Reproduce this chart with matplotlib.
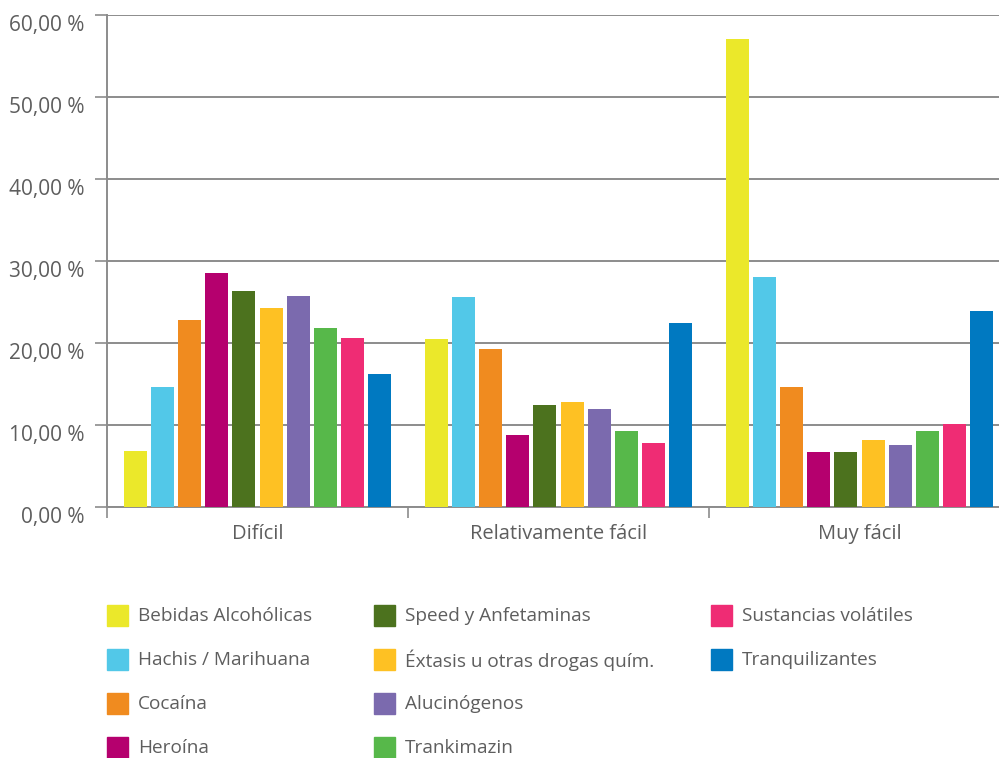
import matplotlib.pyplot as plt
from matplotlib.patches import Rectangle
from matplotlib.ticker import FuncFormatter, FixedLocator

plt.rcParams['font.family'] = ['Open Sans', 'DejaVu Sans']

groups = ["Difícil", "Relativamente fácil", "Muy fácil"]
series = [
    "Bebidas Alcohólicas", "Hachis / Marihuana", "Cocaína", "Heroína",
    "Speed y Anfetaminas", "Éxtasis u otras drogas quím.", "Alucinógenos",
    "Trankimazin", "Sustancias volátiles", "Tranquilizantes",
]
colors = [
    "#EBE82A", "#52C8E8", "#F08B1F", "#B5006E", "#4C721E",
    "#FEC123", "#7B6AAE", "#57B84A", "#EF2C74", "#0079C1",
]
# percentages per series: [Difícil, Relativamente fácil, Muy fácil]
bebidas = [6.8, 20.5, 57.1]
hachis = [14.6, 25.6, 28.0]
cocaina = [22.8, 19.3, 14.6]
heroina = [28.5, 8.8, 6.7]
speed = [26.3, 12.4, 6.7]
extasis = [24.3, 12.8, 8.2]
alucinogenos = [25.7, 12.0, 7.6]
trankimazin = [21.8, 9.3, 9.3]
volatiles = [20.6, 7.8, 10.1]
tranquilizantes = [16.2, 22.4, 23.9]
values = [bebidas, hachis, cocaina, heroina, speed, extasis,
          alucinogenos, trankimazin, volatiles, tranquilizantes]

text_color = "#5e5e5e"
grid_color = "#8c8c8c"

W, H = 999, 758
fig = plt.figure(figsize=(W / 100, H / 100), dpi=100)
ax = fig.add_axes([107 / W, (H - 507) / H, (W - 107) / W, (507 - 15) / H])

group_px = 301
pitch = 27.1 / group_px
width = 23 / group_px
for i, (name, vals, col) in enumerate(zip(series, values, colors)):
    xs = [g + 0.5 + (i - 4.5) * pitch for g in range(len(groups))]
    ax.bar(xs, vals, width=width, color=col, zorder=3, label=name)

ax.set_xlim(0, (W - 107) / group_px)
ax.set_ylim(0, 60)
ax.set_yticks(range(0, 61, 10))
ax.yaxis.set_major_formatter(FuncFormatter(lambda v, p: f"{v:.2f}".replace(".", ",") + " %"))
ax.grid(axis="y", color=grid_color, linewidth=1.4, zorder=0)

ax.xaxis.set_major_locator(FixedLocator([0, 1, 2]))
ax.xaxis.set_minor_locator(FixedLocator([0.5, 1.5, 2.5]))
ax.set_xticklabels([])
ax.set_xticks([0.5, 1.5, 2.5], labels=groups, minor=True)
ax.tick_params(axis="x", which="major", length=8, width=1.2, color=grid_color)
ax.tick_params(axis="x", which="minor", length=0, pad=12, labelsize=14.5, labelcolor=text_color)
ax.tick_params(axis="y", length=9, width=1.2, color=grid_color, pad=7,
               labelsize=15, labelcolor=text_color)
for t in ax.get_yticklabels():
    t.set_verticalalignment("top")

for side in ("top", "right"):
    ax.spines[side].set_visible(False)
for side in ("left", "bottom"):
    ax.spines[side].set_color(grid_color)
    ax.spines[side].set_linewidth(1.4)

# legend laid out in columns of four
col_x = [107, 374, 711]
row_y = [615, 659, 703, 747]
box = 21
for i, (name, col) in enumerate(zip(series, colors)):
    x0 = col_x[i // 4]
    y0 = row_y[i % 4]
    fig.patches.append(Rectangle(((x0) / W, (H - y0 - box / 2) / H), box / W, box / H,
                                 transform=fig.transFigure, color=col))
    fig.text((x0 + 31) / W, (H - y0 - 1) / H, name, fontsize=13.7, color=text_color,
             va="center", ha="left")

fig.savefig("out.png", dpi=100)
